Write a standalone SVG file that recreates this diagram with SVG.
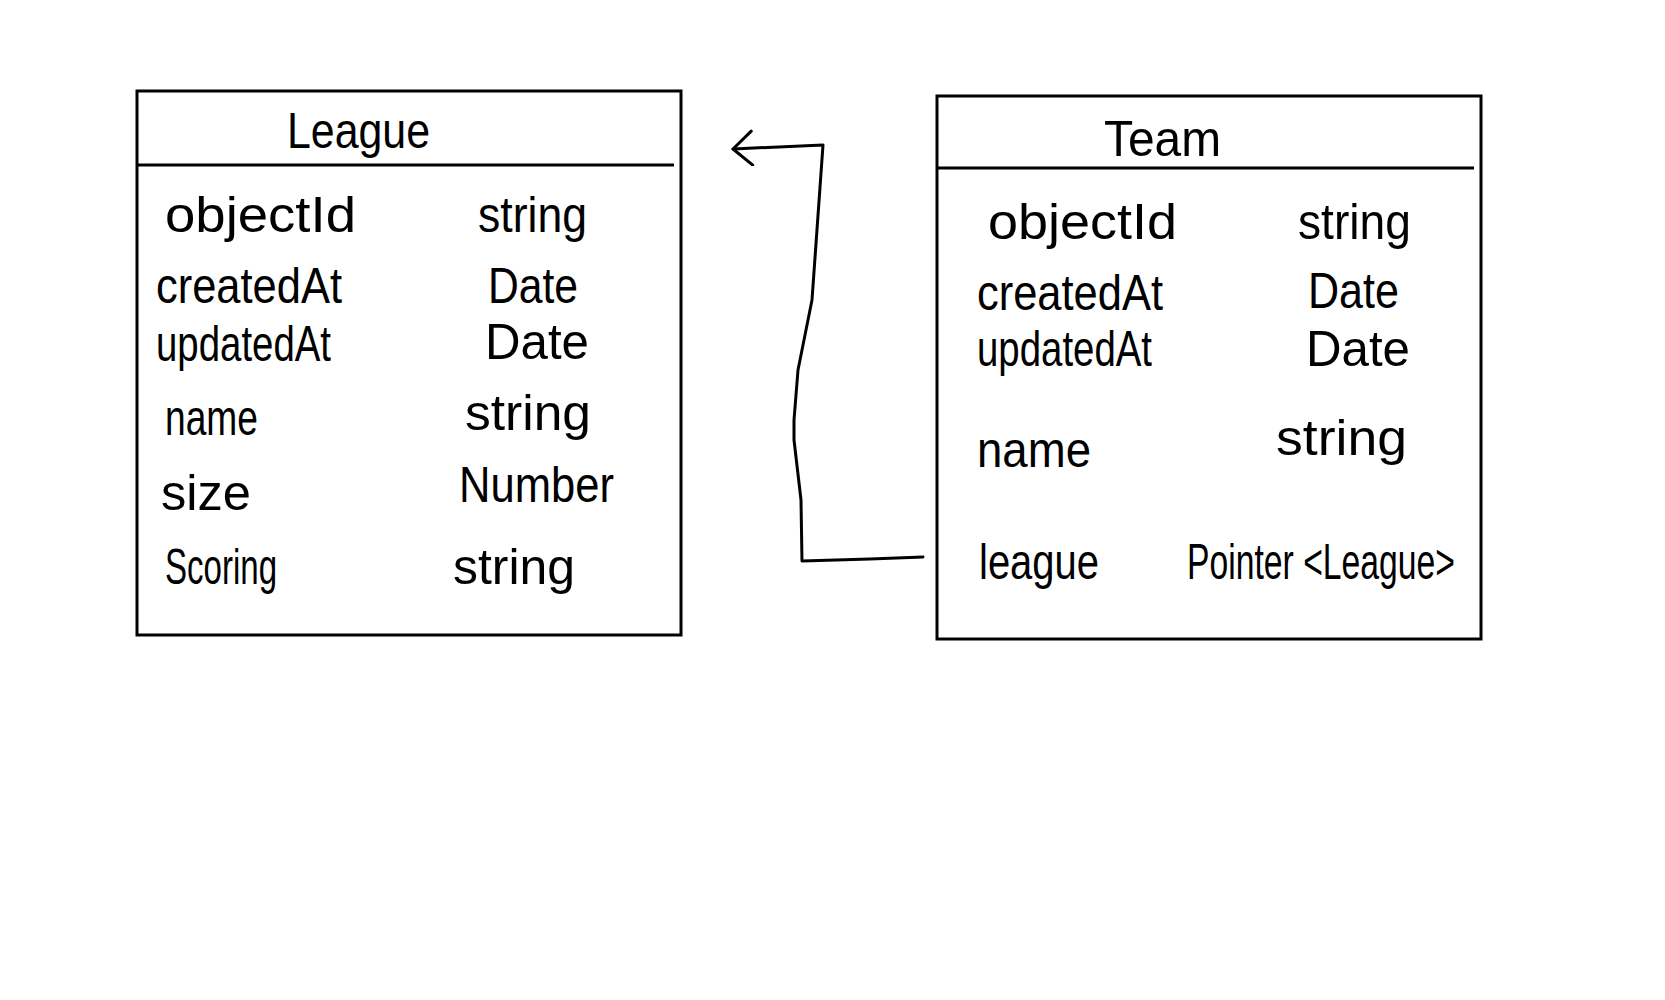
<svg xmlns="http://www.w3.org/2000/svg" width="1665" height="1000" viewBox="0 0 1665 1000">
<style>
.box{fill:none;stroke:#000;stroke-width:3}
.hl{stroke:#000;stroke-width:3;fill:none}
.t{font-family:"Liberation Sans","DejaVu Sans",sans-serif;font-size:50px;fill:#000}
.conn{fill:none;stroke:#000;stroke-width:3;stroke-linecap:round;stroke-linejoin:round}
</style>
<defs>
<marker id="open" markerUnits="userSpaceOnUse" markerWidth="30" markerHeight="40" refX="21" refY="18" orient="auto" viewBox="0 0 30 40">
<path d="M2,1 L21,18 L2,35" fill="none" stroke="#000" stroke-width="3" stroke-linecap="round" stroke-linejoin="round"/>
</marker>
</defs>
<rect width="1665" height="1000" fill="#fff"/>
<g id="league">
<rect class="box" x="137" y="91" width="544" height="544"/>
<line class="hl" x1="137" y1="165" x2="674" y2="165"/>
<text class="t" x="287" y="148" textLength="143" lengthAdjust="spacingAndGlyphs">League</text>
<text class="t" x="165" y="232" textLength="191" lengthAdjust="spacingAndGlyphs">objectId</text>
<text class="t" x="478" y="232" textLength="109" lengthAdjust="spacingAndGlyphs">string</text>
<text class="t" x="156" y="303" textLength="186" lengthAdjust="spacingAndGlyphs">createdAt</text>
<text class="t" x="488" y="303" textLength="90" lengthAdjust="spacingAndGlyphs">Date</text>
<text class="t" x="156" y="361" textLength="175" lengthAdjust="spacingAndGlyphs">updatedAt</text>
<text class="t" x="485" y="359" textLength="104" lengthAdjust="spacingAndGlyphs">Date</text>
<text class="t" x="165" y="435" textLength="93" lengthAdjust="spacingAndGlyphs">name</text>
<text class="t" x="465" y="430" textLength="126" lengthAdjust="spacingAndGlyphs">string</text>
<text class="t" x="161" y="510" textLength="90" lengthAdjust="spacingAndGlyphs">size</text>
<text class="t" x="459" y="502" textLength="155" lengthAdjust="spacingAndGlyphs">Number</text>
<text class="t" x="165" y="584" textLength="112" lengthAdjust="spacingAndGlyphs">Scoring</text>
<text class="t" x="453" y="584" textLength="122" lengthAdjust="spacingAndGlyphs">string</text>
</g>
<g id="team">
<rect class="box" x="937" y="96" width="544" height="543"/>
<line class="hl" x1="937" y1="168" x2="1474" y2="168"/>
<text class="t" x="1104" y="156" textLength="117" lengthAdjust="spacingAndGlyphs">Team</text>
<text class="t" x="988" y="239" textLength="189" lengthAdjust="spacingAndGlyphs">objectId</text>
<text class="t" x="1298" y="239" textLength="113" lengthAdjust="spacingAndGlyphs">string</text>
<text class="t" x="977" y="310" textLength="186" lengthAdjust="spacingAndGlyphs">createdAt</text>
<text class="t" x="1308" y="308" textLength="91" lengthAdjust="spacingAndGlyphs">Date</text>
<text class="t" x="977" y="366" textLength="175" lengthAdjust="spacingAndGlyphs">updatedAt</text>
<text class="t" x="1306" y="366" textLength="104" lengthAdjust="spacingAndGlyphs">Date</text>
<text class="t" x="977" y="467" textLength="114" lengthAdjust="spacingAndGlyphs">name</text>
<text class="t" x="1276" y="455" textLength="131" lengthAdjust="spacingAndGlyphs">string</text>
<text class="t" x="979" y="579" textLength="120" lengthAdjust="spacingAndGlyphs">league</text>
<text class="t" x="1187" y="579" textLength="268" lengthAdjust="spacingAndGlyphs">Pointer &lt;League&gt;</text>
</g>
<g id="connectors">
<path class="conn" marker-end="url(#open)" d="M923,557 L870,559 L802,561 L801,500 L794,440 L794,420 L798,370 L812,300 L823,145 L733,149"/>
</g>
</svg>
